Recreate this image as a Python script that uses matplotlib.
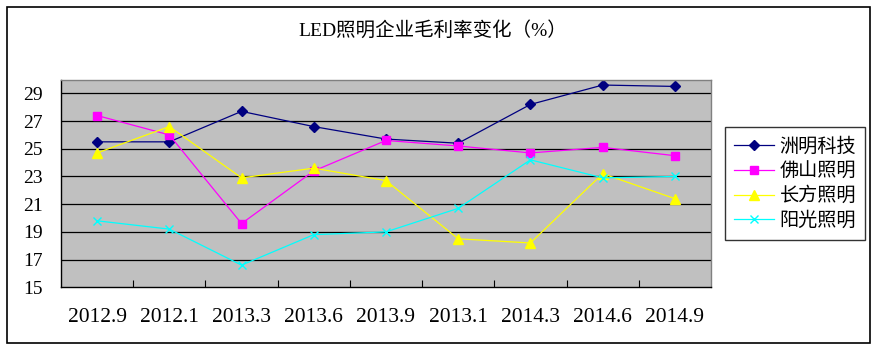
import matplotlib
matplotlib.use("Agg")
import matplotlib.pyplot as plt
from matplotlib.patches import Rectangle

plt.rcParams["font.family"] = ["Liberation Serif", "Noto Sans CJK SC", "DejaVu Sans"]

periods = ["2012.9", "2012.1", "2013.3", "2013.6", "2013.9", "2013.1", "2014.3", "2014.6", "2014.9"]
zhouming = [25.5, 25.5, 27.7, 26.6, 25.7, 25.4, 28.2, 29.6, 29.5]
foshan = [27.4, 26.0, 19.6, 23.4, 25.6, 25.2, 24.7, 25.1, 24.5]
changfang = [24.7, 26.6, 22.9, 23.6, 22.7, 18.5, 18.2, 23.2, 21.4]
yangguang = [19.8, 19.2, 16.6, 18.8, 19.0, 20.7, 24.2, 22.9, 23.0]
names = ["洲明科技", "佛山照明", "长方照明", "阳光照明"]
y_ticks = [15, 17, 19, 21, 23, 25, 27, 29]

fig = plt.figure(figsize=(8.78, 3.52), dpi=100)
ax = fig.add_axes([61 / 878, 1 - 287.3 / 352, 650 / 878, 207.8 / 352])
ax.set_facecolor("#c0c0c0")

x = list(range(len(periods)))
styles = [
    (zhouming, "#000080", "D", 5.0),
    (foshan, "#ff00ff", "s", 5.5),
    (changfang, "#ffff00", "^", 6.5),
    (yangguang, "#00ffff", "x", 6.0),
]
for (vals, c, m, ms), name in zip(styles, names):
    ax.plot(x, vals, color=c, lw=0.9, marker=m, ms=ms, mfc=c, mec=c, mew=1.0, label=name)

ax.set_xlim(-0.5, len(periods) - 0.5)
ax.set_ylim(15, 30)
ax.set_yticks(y_ticks)
ax.set_yticklabels([str(v) for v in y_ticks], fontsize=14)
ax.tick_params(axis="y", length=0, pad=13)
for v in y_ticks[1:]:
    ax.axhline(v, color="black", lw=0.9, zorder=1)

ax.set_xticks([i + 0.5 for i in x[:-1]])
ax.set_xticklabels([])
ax.tick_params(axis="x", which="major", direction="in", length=5, width=0.8, color="black")
ax.set_xticks(x, minor=True)
ax.set_xticklabels(periods, minor=True, fontsize=15.5)
ax.tick_params(axis="x", which="minor", length=0, pad=15)

for s in ["left", "bottom"]:
    ax.spines[s].set_color("black")
    ax.spines[s].set_linewidth(1.0)
for s in ["top", "right"]:
    ax.spines[s].set_color("#808080")
    ax.spines[s].set_linewidth(1.0)

fig.text(433 / 878, 1 - 30 / 352, "LED照明企业毛利率变化（%）", ha="center", va="center",
         fontsize=14, family=["Liberation Serif", "Noto Sans CJK SC"])

leg = fig.legend(loc="upper left", bbox_to_anchor=(725 / 878, 1 - 127 / 352),
                 borderaxespad=0, frameon=True, fancybox=False, handlelength=2.1,
                 handletextpad=0.3, borderpad=0.45, labelspacing=0.2,
                 prop={"family": ["Noto Sans CJK SC"], "size": 13.8})
leg.get_frame().set_edgecolor("black")
leg.get_frame().set_linewidth(1.0)

fig.patches.append(Rectangle((7 / 878, 1 - 343 / 352), 863 / 878, 336 / 352,
                             transform=fig.transFigure, fill=False, edgecolor="black", lw=1.2))

fig.savefig("out.png", dpi=100)
